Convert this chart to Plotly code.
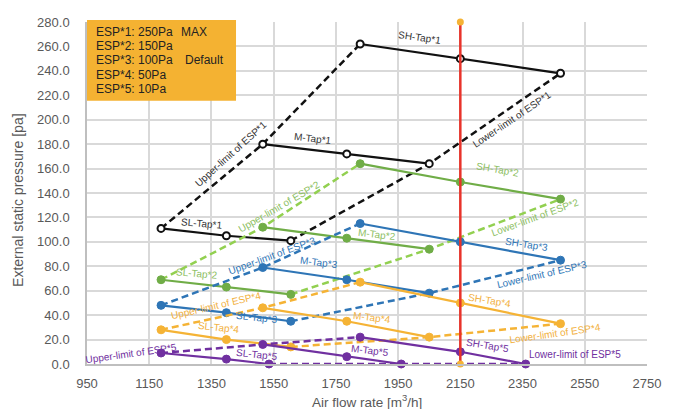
import plotly.graph_objects as go

# ---- data ----
esp_names = ["ESP*1", "ESP*2", "ESP*3", "ESP*4", "ESP*5"]
sl_x = [[1188, 1398, 1605]] * 4 + [[1188, 1398, 1535]]
m_x = [[1515, 1785, 2050]] * 4 + [[1515, 1785, 1960]]
sh_x = [[1828, 2150, 2472]] * 4 + [[1828, 2150, 2360]]

sl_y = [[111, 105, 101], [69, 63, 57], [48, 42, 35], [28, 20, 14], [9, 4, 0]]
m_y = [[180, 172, 164], [112, 103, 94], [79, 69, 58], [46, 35, 22], [16, 6, 0]]
sh_y = [[262, 250, 238], [164, 149, 135], [115, 100, 85], [67, 50, 33], [22, 10, 0]]

solid_colors = ["#111111", "#70AD47", "#2E75B6", "#F5B335", "#7030A0"]
dash_colors = ["#111111", "#92D050", "#2E75B6", "#F5B335", "#7030A0"]
text_colors = ["#333333", "#8DC063", "#2E75B6", "#F2B141", "#7030A0"]

legend_lines = ["ESP*1: 250Pa", "ESP*2: 150Pa", "ESP*3: 100Pa", "ESP*4: 50Pa", "ESP*5: 10Pa"]
legend_notes = ["MAX", "", "Default", "", ""]

design_flow = 2150
y_max = 280

# label texts: (text, esp index, x, y, angle)
labels = [
    ("SH-Tap*1", 0, 2019, 267, 8), ("M-Tap*1", 0, 1675, 185, 7), ("SL-Tap*1", 0, 1320, 115, 5),
    ("Upper-limit of ESP*1", 0, 1414, 172, -42), ("Lower-limit of ESP*1", 0, 2315, 200, -34),
    ("SH-Tap*2", 1, 2270, 159, 10), ("M-Tap*2", 1, 1881, 106, 7), ("SL-Tap*2", 1, 1304, 74, 5),
    ("Upper-limit of ESP*2", 1, 1568, 129, -30), ("Lower-limit of ESP*2", 1, 2389, 120, -20),
    ("SH-Tap*3", 2, 2364, 98, 9), ("M-Tap*3", 2, 1697, 83, 7), ("SL-Tap*3", 2, 1495, 38, 6),
    ("Upper-limit of ESP*3", 2, 1546, 89, -20), ("Lower-limit of ESP*3", 2, 2412, 73, -13),
    ("SH-Tap*4", 3, 2244, 52, 9), ("M-Tap*4", 3, 1865, 38, 7), ("SL-Tap*4", 3, 1375, 30, 6),
    ("Upper-limit of ESP*4", 3, 1365, 48, -13), ("Lower-limit of ESP*4", 3, 2454, 25, -8),
    ("SH-Tap*5", 4, 2238, 15, 9), ("M-Tap*5", 4, 1860, 11, 7), ("SL-Tap*5", 4, 1495, 7.5, 6),
    ("Upper-limit of ESP*5", 4, 1090, 9, -8), ("Lower-limit of ESP*5", 4, 2518, 8, 0),
]

fig = go.Figure()

for i in range(5):
    c = solid_colors[i]
    dc = dash_colors[i]
    up_x = [sl_x[i][0], m_x[i][0], sh_x[i][0]]
    up_y = [sl_y[i][0], m_y[i][0], sh_y[i][0]]
    lo_x = [sl_x[i][-1], m_x[i][-1], sh_x[i][-1]]
    lo_y = [sl_y[i][-1], m_y[i][-1], sh_y[i][-1]]
    for xx, yy in [(up_x, up_y), (lo_x, lo_y)]:
        fig.add_trace(go.Scatter(x=xx, y=yy, mode="lines",
                                 line=dict(color=dc, width=2.5, dash="7px,4px"),
                                 showlegend=False, hoverinfo="skip", cliponaxis=False))
    for xx, yy in [(sl_x[i], sl_y[i]), (m_x[i], m_y[i]), (sh_x[i], sh_y[i])]:
        if i == 0:
            mk = dict(size=7, color="#ffffff", line=dict(color="#111111", width=2))
        else:
            mk = dict(size=8, color=c, line=dict(color=c, width=1))
        fig.add_trace(go.Scatter(x=xx, y=yy, mode="lines+markers",
                                 line=dict(color=c, width=2.2), marker=mk,
                                 showlegend=False, cliponaxis=False))

fig.add_trace(go.Scatter(x=[design_flow, design_flow], y=[0, y_max], mode="lines+markers",
                         line=dict(color="#E8332A", width=2.5),
                         marker=dict(size=7, color="#F5B335"),
                         showlegend=False, cliponaxis=False))

# legend box
fig.add_shape(type="rect", xref="x", yref="paper", x0=950, x1=1429, y0=0.77, y1=1.006,
              fillcolor="#F4B232", line=dict(width=0), layer="above")
for k, (t, n) in enumerate(zip(legend_lines, legend_notes)):
    yy = 271.6 - k * 11.55
    fig.add_annotation(x=973, y=yy, xref="x", yref="y", text=t, showarrow=False,
                       xanchor="left", font=dict(size=12, color="#222222"))
    if n:
        fig.add_annotation(x=1246 if n == "MAX" else 1259, y=yy, xref="x", yref="y", text=n,
                           showarrow=False, xanchor="left", font=dict(size=12, color="#222222"))

for t, i, x, y, a in labels:
    fig.add_annotation(x=x, y=y, text=t, showarrow=False, textangle=a,
                       font=dict(size=10, color=text_colors[i]))

# axis titles
fig.add_annotation(xref="paper", yref="paper", x=0.5, y=-0.108, text="Air flow rate [m<sup>3</sup>/h]",
                   showarrow=False, xanchor="center", yanchor="middle",
                   font=dict(size=13.5, color="#595959"))
fig.add_annotation(xref="paper", yref="paper", x=-0.123, y=0.48, text="External static pressure [pa]",
                   showarrow=False, textangle=-90, xanchor="center", yanchor="middle",
                   font=dict(size=14, color="#595959"))

fig.update_layout(
    width=661, height=401,
    margin=dict(l=79, r=22, t=14, b=45),
    paper_bgcolor="white", plot_bgcolor="white",
    font=dict(family="Liberation Sans, Arial", color="#595959"),
)
fig.update_xaxes(range=[950, 2750], dtick=200, tick0=950, showgrid=True,
                 gridcolor="#D9D9D9", gridwidth=1.5, showline=True, linecolor="#BFBFBF",
                 linewidth=1.5, zeroline=False, ticks="outside", ticklen=7,
                 tickcolor="rgba(0,0,0,0)", automargin=False,
                 tickfont=dict(size=13, color="#595959"))
fig.update_yaxes(range=[0, 280], dtick=20, tickformat=".1f", showgrid=True,
                 gridcolor="#D9D9D9", gridwidth=1.5, showline=True, linecolor="#BFBFBF",
                 linewidth=1.5, zeroline=False, ticks="outside", ticklen=13,
                 tickcolor="rgba(0,0,0,0)", automargin=False,
                 tickfont=dict(size=13, color="#595959"))

fig.write_html("out.html")
